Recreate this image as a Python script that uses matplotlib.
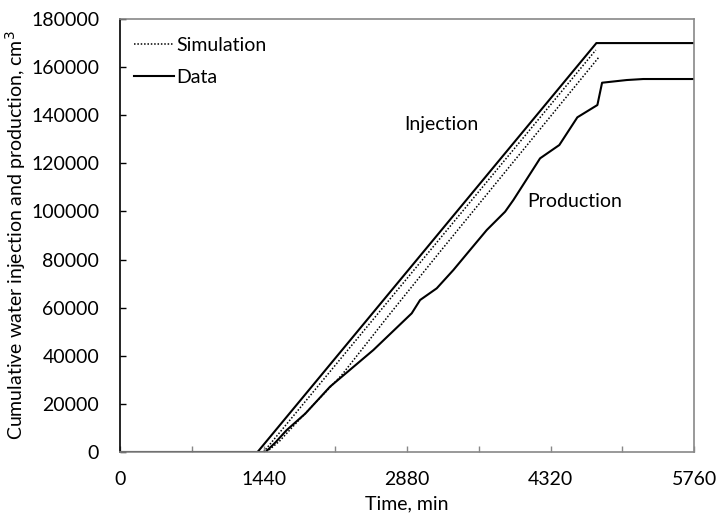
import matplotlib
matplotlib.use("Agg")
import matplotlib.pyplot as plt
from matplotlib.ticker import MultipleLocator, FuncFormatter

plt.rcParams['font.family'] = ['Lato', 'DejaVu Sans']

# Measured injection (data)
inj_data_t = [0, 1380, 4780, 5760]
inj_data_v = [0, 0, 170000, 170000]

# Measured production (data)
prod_data_t = [0, 1460, 1560, 1672, 1860, 2107, 2542, 2927, 3011, 3178, 3345,
               3512, 3680, 3864, 3947, 4215, 4408, 4589, 4790, 4837, 5085, 5251, 5760]
prod_data_v = [0, 0, 4000, 9100, 16000, 27150, 42400, 57660, 63190, 68050, 75660,
               83970, 92290, 99900, 104760, 122090, 127620, 139140, 144250, 153520,
               154640, 155060, 155060]

# Simulated injection
inj_sim_t = [1440, 4774]
inj_sim_v = [0, 167100]

# Simulated production
prod_sim_t = [1470, 1600, 1800, 2225, 2700, 3184, 4000, 4810]
prod_sim_v = [0, 4500, 13500, 32010, 57000, 81890, 123300, 164400]

x_ticks = [0, 1440, 2880, 4320, 5760]
fs = 14

fig = plt.figure(figsize=(7.17, 5.17), dpi=100)
ax = fig.add_axes([0.1674, 0.1257, 0.8006, 0.8375])

ax.plot(inj_data_t, inj_data_v, color='black', lw=1.5, solid_joinstyle='miter')
ax.plot(prod_data_t, prod_data_v, color='black', lw=1.5)
ax.plot(inj_sim_t, inj_sim_v, color='black', lw=1.1, linestyle=(0, (1, 1.2)))
ax.plot(prod_sim_t, prod_sim_v, color='black', lw=1.1, linestyle=(0, (1, 1.2)))

ax.plot([], [], color='black', lw=1.1, linestyle=(0, (1, 1.2)), label='Simulation')
ax.plot([], [], color='black', lw=1.5, label='Data')
ax.legend(loc='upper left', frameon=False, fontsize=fs, handlelength=2.1,
          handletextpad=0.1, borderaxespad=0.3, labelspacing=0.75,
          bbox_to_anchor=(0.0, 0.99))

ax.text(3221, 136350, 'Injection', fontsize=fs, ha='center', va='center')
ax.text(4566, 104340, 'Production', fontsize=fs, ha='center', va='center')

ax.set_xlim(0, 5760)
ax.set_ylim(0, 180000)
ax.xaxis.set_major_locator(MultipleLocator(720))
ax.xaxis.set_major_formatter(FuncFormatter(
    lambda v, p: f"{int(round(v))}" if int(round(v)) in x_ticks else ""))
ax.yaxis.set_major_locator(MultipleLocator(20000))
ax.yaxis.set_major_formatter(FuncFormatter(lambda v, p: f"{int(round(v))}"))

ax.tick_params(axis='both', direction='in', length=4, width=1, labelsize=fs)
ax.tick_params(axis='y', pad=15)
ax.tick_params(axis='x', pad=14, colors='#888888', labelcolor='black')

for side in ['top', 'right', 'bottom']:
    ax.spines[side].set_color('#888888')
    ax.spines[side].set_linewidth(1.2)
ax.spines['left'].set_color('black')
ax.spines['left'].set_linewidth(1.2)

ax.set_xlabel('Time, min', fontsize=fs, labelpad=5)
ax.set_ylabel('Cumulative water injection and production, cm$^3$', fontsize=fs, labelpad=2)

fig.savefig('out.png', dpi=100)
